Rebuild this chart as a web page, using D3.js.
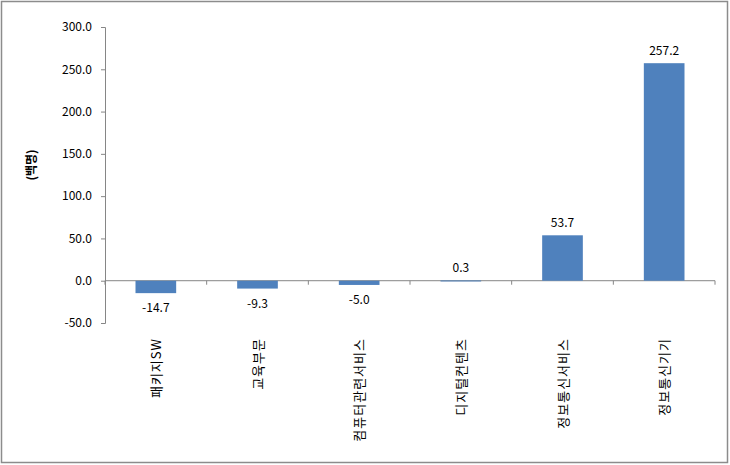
<!DOCTYPE html>
<html>
<head>
<meta charset="utf-8">
<script src="https://cdn.jsdelivr.net/npm/d3@7"></script>
<style>
body { margin: 0; background: #fff; }
text { font-family: "Noto Sans CJK KR", "Noto Sans", sans-serif; fill: #000; }
</style>
</head>
<body>
<svg class="chart"></svg>
<script>
var width = 730,
    height = 465;

var categories = ["패키지SW", "교육부문", "컴퓨터관련서비스", "디지털컨텐츠", "정보통신서비스", "정보통신기기"],
    values = [-14.7, -9.3, -5.0, 0.3, 53.7, 257.2],
    yTicks = [-50, 0, 50, 100, 150, 200, 250, 300];

var plotLeft = 105, plotRight = 715, plotTop = 27, plotBottom = 323;

var svg = d3.select('.chart')
    .attr("width", width)
    .attr("height", height);

svg.append("rect")
    .attr("x", 1.5).attr("y", 1.5)
    .attr("width", width - 4).attr("height", height - 4)
    .attr("fill", "#fff")
    .attr("stroke", "#8c8c8c")
    .attr("stroke-width", 1.5);

var x = d3.scaleBand()
    .domain(categories)
    .range([plotLeft, plotRight])
    .paddingInner(0.6)
    .paddingOuter(0.3);

var y = d3.scaleLinear()
    .domain([-50, 300])
    .range([plotBottom, plotTop]);

// y axis
var yAxis = svg.append("g")
    .attr("transform", "translate(" + plotLeft + ",0)")
    .call(d3.axisLeft(y).tickValues(yTicks).tickSize(4).tickPadding(9)
        .tickFormat(function (d) { return d.toFixed(1); }));
yAxis.selectAll("path, line").attr("stroke", "#868686");
yAxis.selectAll("text").attr("font-size", 12);

// x axis along zero
var step = (plotRight - plotLeft) / categories.length;
svg.append("line")
    .attr("x1", plotLeft).attr("x2", plotRight)
    .attr("y1", y(0)).attr("y2", y(0))
    .attr("stroke", "#868686");
svg.selectAll(".xtick")
    .data(d3.range(categories.length + 1))
    .enter()
    .append("line")
    .attr("x1", function (d) { return plotLeft + step * d; })
    .attr("x2", function (d) { return plotLeft + step * d; })
    .attr("y1", y(0)).attr("y2", y(0) + 4)
    .attr("stroke", "#868686");

// bars
svg.selectAll(".bar")
    .data(values)
    .enter()
    .append("rect")
    .attr("x", function (d, i) { return x(categories[i]); })
    .attr("width", x.bandwidth())
    .attr("y", function (d) { return y(Math.max(0, d)); })
    .attr("height", function (d) { return Math.max(1, Math.abs(y(d) - y(0))); })
    .attr("fill", "#4F81BD");

// value labels
svg.selectAll(".val")
    .data(values)
    .enter()
    .append("text")
    .text(function (d) { return d.toFixed(1); })
    .attr("x", function (d, i) { return x(categories[i]) + x.bandwidth() / 2; })
    .attr("y", function (d) { return d >= 0 ? y(d) - 8 : y(d) + 19; })
    .attr("text-anchor", "middle")
    .attr("font-size", 12);

// category labels, rotated
svg.selectAll(".cat")
    .data(categories)
    .enter()
    .append("text")
    .text(function (d) { return d; })
    .attr("transform", function (d) {
        return "translate(" + (x(d) + x.bandwidth() / 2 + 5) + ",338) rotate(-90)";
    })
    .attr("text-anchor", "end")
    .attr("font-size", 13)
    .attr("letter-spacing", 1);

// y title
svg.append("text")
    .text("(백명)")
    .attr("transform", "translate(36,165) rotate(-90)")
    .attr("text-anchor", "middle")
    .attr("font-size", 12)
    .attr("font-weight", "bold");
</script>
</body>
</html>
